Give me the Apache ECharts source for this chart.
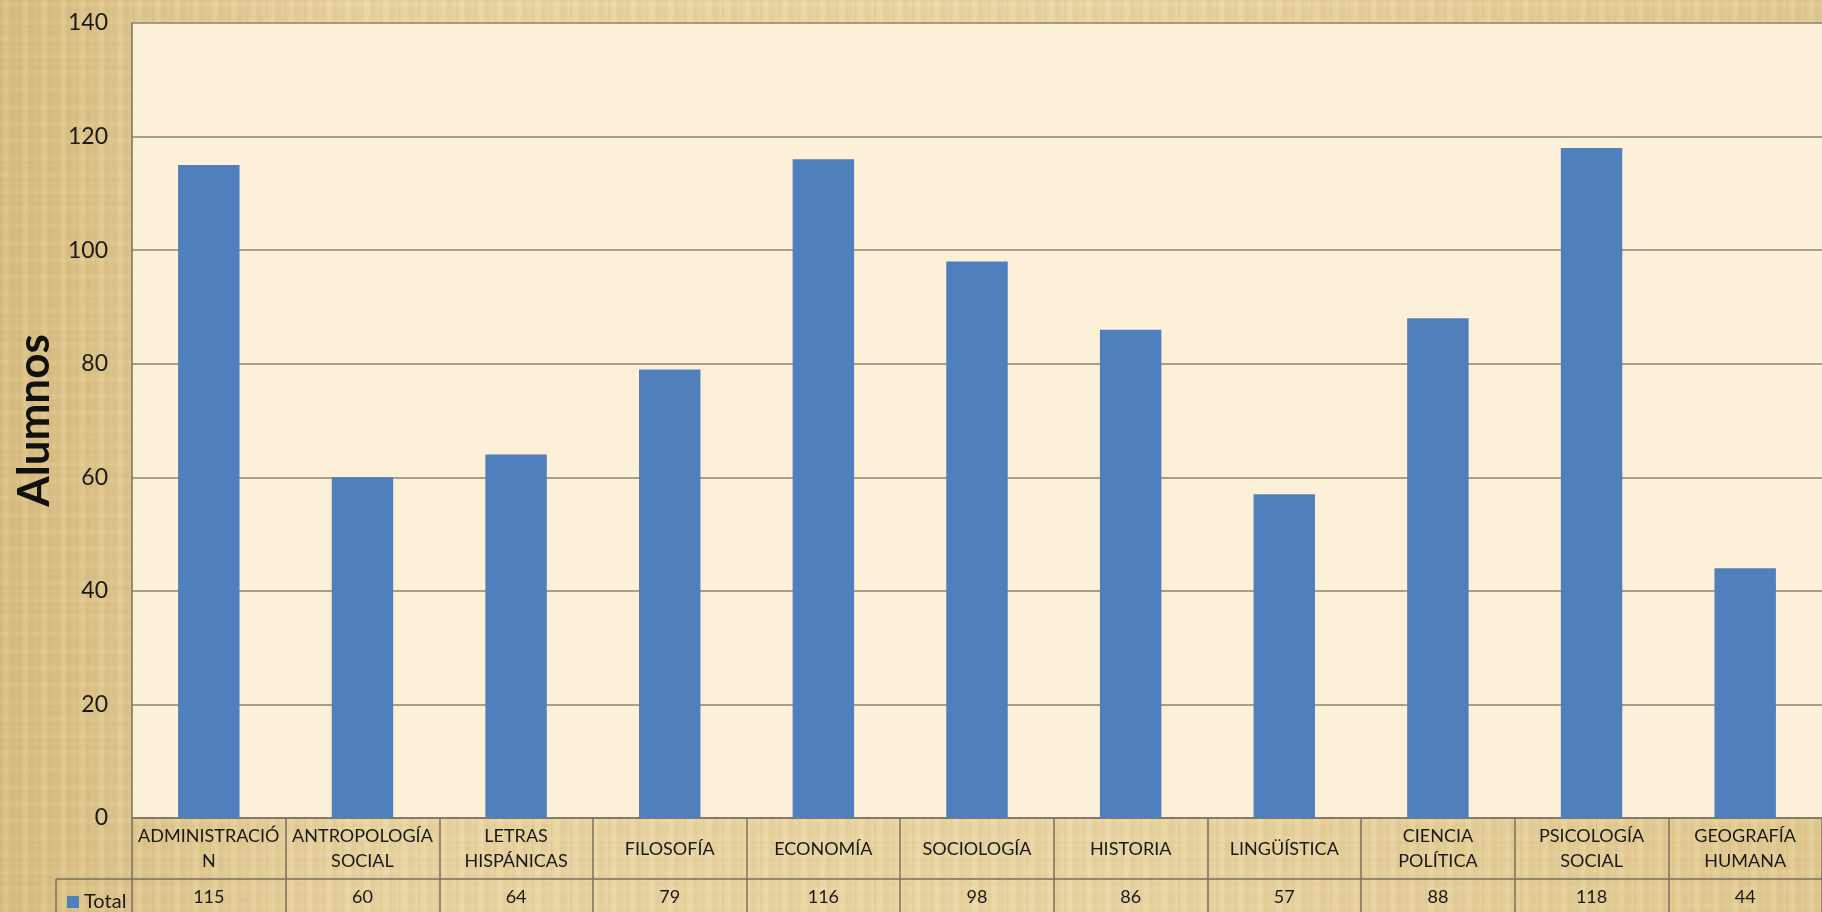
<!DOCTYPE html>
<html>
<head>
<meta charset="utf-8">
<script src="https://cdn.jsdelivr.net/npm/echarts@6/dist/echarts.min.js"></script>
<style>
html,body{margin:0;padding:0;width:1822px;height:912px;overflow:hidden;}
body{
  background-color:#E6D09C;
  background-image:
    repeating-linear-gradient(90deg, rgba(150,110,40,0.10) 0px, rgba(150,110,40,0.00) 3px, rgba(255,240,200,0.14) 7px, rgba(150,110,40,0.07) 11px, rgba(255,240,200,0.0) 19px),
    repeating-linear-gradient(0deg, rgba(140,100,30,0.05) 0px, rgba(255,245,210,0.08) 6px, rgba(140,100,30,0.03) 11px, rgba(255,245,210,0.0) 17px),
    linear-gradient(90deg, #D9BF83 0%, #E9D5A3 20%, #EAD7A6 60%, #E2CB92 100%);
}
#chart{width:1822px;height:912px;}
</style>
</head>
<body>
<div id="chart"></div>
<script>
const categories = ['ADMINISTRACIÓ\nN','ANTROPOLOGÍA\nSOCIAL','LETRAS\nHISPÁNICAS','FILOSOFÍA','ECONOMÍA','SOCIOLOGÍA','HISTORIA','LINGÜÍSTICA','CIENCIA\nPOLÍTICA','PSICOLOGÍA\nSOCIAL','GEOGRAFÍA\nHUMANA'];
const totals = [115, 60, 64, 79, 116, 98, 86, 57, 88, 118, 44];
const seriesName = 'Total';
const yTicks = {min: 0, max: 140, interval: 20};
const axisTitle = 'Alumnos';

const FONT = 'Lato';
const lineCol = '#7A7060';
const txtCol = '#1A1A1A';
const chart = echarts.init(document.getElementById('chart'), null, {renderer: 'canvas'});
chart.setOption({
  backgroundColor: 'transparent',
  animation: false,
  textStyle: {fontFamily: FONT},
  grid: {left: 132, top: 23, width: 1700, height: 795, show: true, backgroundColor: '#FCF0D8', borderWidth: 0},
  legend: {
    show: true, left: 62, top: 887, icon: 'rect', itemWidth: 12, itemHeight: 12, itemGap: 5,
    data: [seriesName],
    textStyle: {fontFamily: FONT, fontSize: 20, color: txtCol, padding: [0,0,0,0]}
  },
  xAxis: [{
    type: 'category', data: categories, gridIndex: 0,
    axisLine: {show: true, lineStyle: {color: lineCol, width: 1.5}},
    axisTick: {show: true, interval: 0, alignWithLabel: false, length: 94, lineStyle: {color: lineCol, width: 1.5}},
    axisLabel: {interval: 0, fontFamily: FONT, fontSize: 18, lineHeight: 25, color: txtCol, margin: 31, verticalAlign: 'middle', align: 'center'},
    splitLine: {show: false}
  }, {
    type: 'category', data: totals.map(String), gridIndex: 0, position: 'bottom', offset: 61,
    axisLine: {show: true, lineStyle: {color: lineCol, width: 1.5}},
    axisTick: {show: false},
    axisLabel: {interval: 0, fontFamily: FONT, fontSize: 18, color: txtCol, margin: 18, verticalAlign: 'middle'},
    splitLine: {show: false}
  }],
  yAxis: {
    type: 'value', min: yTicks.min, max: yTicks.max, interval: yTicks.interval,
    name: axisTitle, nameLocation: 'middle', nameGap: 71,
    nameTextStyle: {fontFamily: FONT, fontSize: 44, fontWeight: 'bold', color: '#111'},
    axisLine: {show: true, lineStyle: {color: lineCol, width: 1.5}},
    axisTick: {show: false},
    axisLabel: {fontFamily: FONT, fontSize: 23, color: txtCol, margin: 24},
    splitLine: {show: true, lineStyle: {color: '#8E8370', width: 1.5}}
  },
  graphic: [
    {type: 'line', shape: {x1: 56, y1: 879, x2: 132, y2: 879}, style: {stroke: lineCol, lineWidth: 1.5}},
    {type: 'line', shape: {x1: 56, y1: 879, x2: 56, y2: 912}, style: {stroke: lineCol, lineWidth: 1.5}}
  ],
  series: [{
    name: seriesName, type: 'bar', xAxisIndex: 0, data: totals,
    barCategoryGap: '60%',
    itemStyle: {color: '#4F80BD'}
  }]
});
</script>
</body>
</html>
